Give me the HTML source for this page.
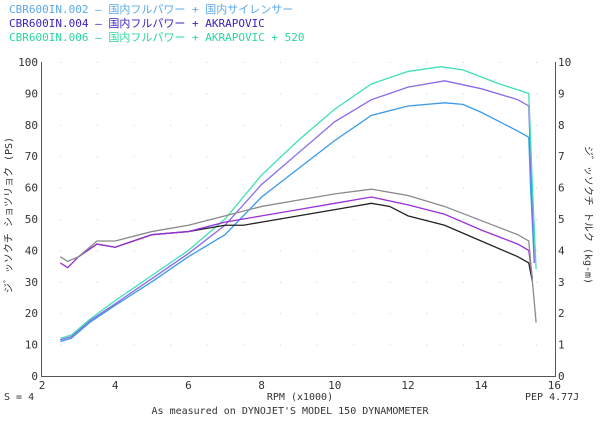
<!DOCTYPE html>
<html><head><meta charset="utf-8"><style>
body{margin:0;background:#fff;width:600px;height:421px;overflow:hidden}
svg{display:block}
text{font-family:"DejaVu Sans Mono","Liberation Mono","Noto Sans CJK JP",monospace;}
</style></head><body>
<svg id="s" width="600" height="421" xmlns="http://www.w3.org/2000/svg">
<rect width="600" height="421" fill="#fff"/>
<g font-size="11" font-family="Liberation Sans,Noto Sans CJK JP,sans-serif">
<text x="9" y="13" fill="#5aa8e8">CBR600IN.002 <tspan>–  国内フルパワー + 国内サイレンサー</tspan></text>
<text x="9" y="27" fill="#3a22c0">CBR600IN.004 <tspan>–  国内フルパワー + AKRAPOVIC</tspan></text>
<text x="9" y="41" fill="#2ad8a0">CBR600IN.006 <tspan>–  国内フルパワー + AKRAPOVIC + 520</tspan></text>
</g>
<g stroke="#555" stroke-width="1" fill="none">
<line x1="41.5" y1="62" x2="41.5" y2="377"/>
<line x1="555.5" y1="62" x2="555.5" y2="377"/>
<line x1="41" y1="376.5" x2="556" y2="376.5"/>
</g>
<g id="grid" fill="#ccc"></g>
<g id="lab" font-size="11" fill="#333" font-family="Liberation Sans,sans-serif"></g>
<text x="12" y="215" font-size="10" fill="#333" transform="rotate(-90 12 215)" text-anchor="middle" font-family="Liberation Sans,Noto Sans CJK JP,sans-serif">ジ゛ッソクチ ショツリョク (PS)</text>
<text x="585" y="215" font-size="10" fill="#333" transform="rotate(90 585 215)" text-anchor="middle" font-family="Liberation Sans,Noto Sans CJK JP,sans-serif">ジ゛ッソクチ トルク (kg-m)</text>
<g font-size="10" fill="#333">
<text x="4" y="400">S = 4</text>
<text x="300" y="400" text-anchor="middle">RPM (x1000)</text>
<text x="525" y="400">PEP 4.77J</text>
<text x="290" y="414" text-anchor="middle">As measured on DYNOJET'S MODEL 150 DYNAMOMETER</text>
</g>
<g id="curves" fill="none" stroke-width="1.3"></g>
</svg>
<script>
var X=r=>42+(r-2)*36.6, Y=v=>376-v*3.14;
var g=document.getElementById('grid'),l=document.getElementById('lab'),ns='http://www.w3.org/2000/svg';
function el(p,t,a,txt){var e=document.createElementNS(ns,t);for(var k in a)e.setAttribute(k,a[k]);if(txt!=null)e.textContent=txt;p.appendChild(e);}
for(var r=2;r<=16;r+=2){el(l,'text',{x:X(r),y:389,'text-anchor':'middle'},r);}
for(var v=0;v<=100;v+=10){el(l,'text',{x:38,y:Y(v)+4,'text-anchor':'end'},v);el(l,'text',{x:558,y:Y(v)+4},v/10);
 for(var r=2.5;r<16;r+=1) if(v>0) el(g,'rect',{x:X(r),y:Y(v),width:1,height:1});}
var c=document.getElementById('curves');
function P(d,col){el(c,'polyline',{points:d.map(p=>X(p[0])+','+Y(p[1])).join(' '),stroke:col});}
P([[2.5,11],[2.8,12],[3.3,17],[4,22.5],[5,30],[6,38],[7,45],[8,57],[9,66],[10,75],[11,83],[12,86],[13,87],[13.5,86.5],[14,84],[15,78],[15.3,76],[15.35,60],[15.45,36]],'#3a9ae8');
P([[2.5,11.5],[2.8,12.5],[3.3,17.5],[4,23],[5,31],[6,39],[7,48],[8,61],[9,71],[10,81],[11,88],[12,92],[13,94],[14,91.5],[15,88],[15.3,86],[15.35,68],[15.45,36]],'#8a6ae8');
P([[2.5,12],[2.8,13],[3.3,18],[4,24],[5,32],[6,40],[7,50],[8,64],[9,75],[10,85],[11,93],[12,97],[12.9,98.5],[13.5,97.5],[14.5,93],[15.3,90],[15.4,60],[15.5,34]],'#3ee0b8');
P([[3,38],[3.5,42],[4,41],[5,45],[6,46],[6.5,47],[7,48],[7.5,48],[8,49],[9,51],[10,53],[11,55],[11.5,54],[12,51],[13,48],[14,43],[15,38],[15.3,36],[15.4,30]],'#222');
P([[2.5,36],[2.7,34.5],[3,38],[3.5,42],[4,41],[5,45],[6,46],[7,49],[8,51],[9,53],[10,55],[11,57],[12,54.5],[13,51.5],[14,46.5],[15,42],[15.3,40],[15.4,31]],'#9a30d8');
P([[2.5,38],[2.7,36.5],[3,38],[3.5,43],[4,43],[5,46],[6,48],[7,51],[8,54],[9,56],[10,58],[11,59.5],[12,57.5],[13,54],[14,49.5],[15,45],[15.3,43],[15.5,17]],'#8a8a8a');
</script>
</body></html>
